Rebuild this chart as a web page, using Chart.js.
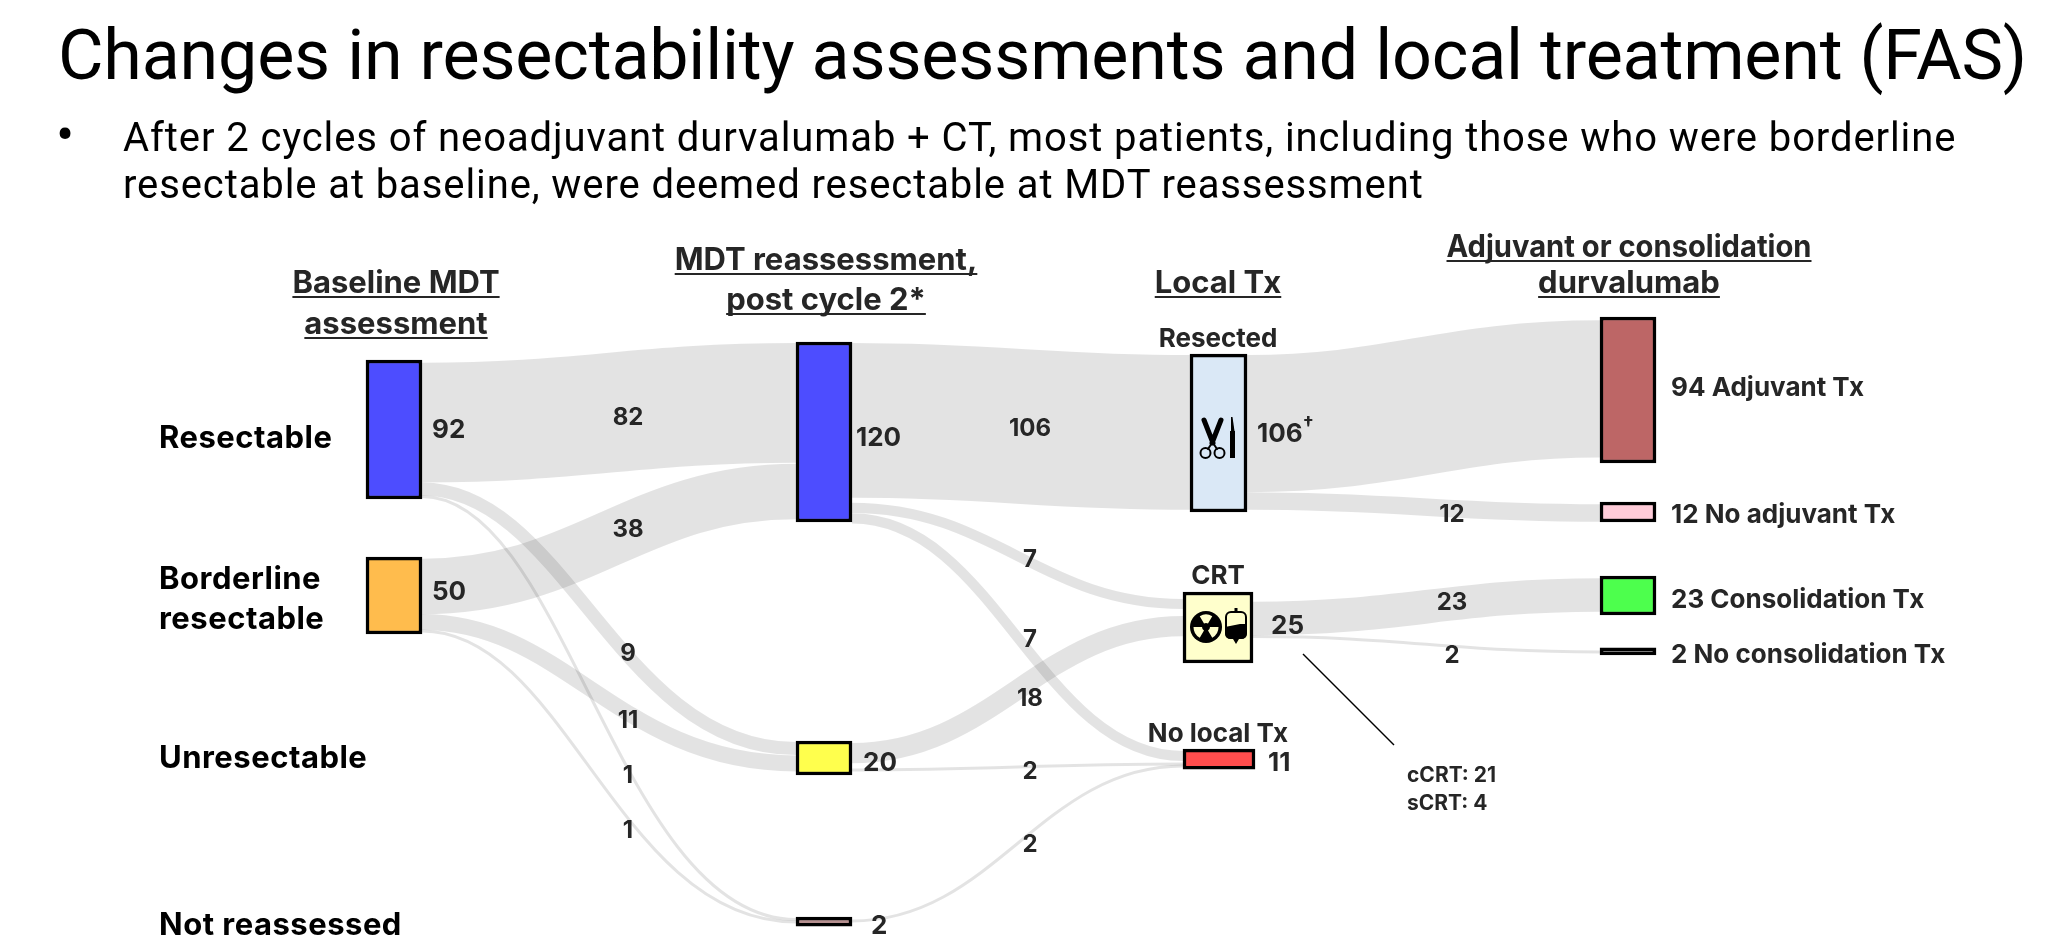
<!DOCTYPE html>
<html lang="en">
<head>
    <meta charset="UTF-8">
    <title>Changes in resectability assessments and local treatment (FAS)</title>
    <script src="https://cdn.jsdelivr.net/npm/chart.js"></script>
    <style>
        body { margin: 0; background: #fff; font-family: Roboto, sans-serif; color: #000; }
        #wrap { position: relative; width: 2047px; height: 942px; overflow: hidden; }
        canvas { position: absolute; left: 0; top: 0; }
        h1, p, span.dot { position: absolute; margin: 0; font-weight: 400; white-space: nowrap; }
        h1 { left: 58px; top: 14px; font-size: 70px; line-height: 82px; letter-spacing: -0.2px; }
        p { left: 123px; font-size: 40px; line-height: 46px; letter-spacing: 0.9px; }
        #line1 { top: 115px; }
        #line2 { top: 162px; }
        span.dot { left: 56px; top: 112px; font-size: 54px; line-height: 46px; }
    </style>
</head>
<body>
<div id="wrap">
    <canvas id="flowChart" width="2047" height="942"></canvas>
    <h1>Changes in resectability assessments and local treatment (FAS)</h1>
    <span class="dot">&bull;</span>
    <p id="line1">After 2 cycles of neoadjuvant durvalumab + CT, most patients, including those who were borderline</p>
    <p id="line2">resectable at baseline, were deemed resectable at MDT reassessment</p>
</div>
<script>
    // node data
    const nodeNames = ['Baseline resectable', 'Baseline borderline', 'Reassessed resectable', 'Reassessed unresectable',
        'Not reassessed', 'Resected', 'CRT', 'No local Tx', 'Adjuvant Tx', 'No adjuvant Tx', 'Consolidation Tx', 'No consolidation Tx'];
    const nodeValues = [92, 50, 120, 20, 2, 106, 25, 11, 94, 12, 23, 2];

    // flow data
    const linkFrom = [0, 1, 0, 0, 1, 1, 2, 2, 2, 3, 3, 4, 5, 5, 6, 6];
    const linkTo = [2, 2, 3, 4, 3, 4, 5, 6, 7, 6, 7, 7, 8, 9, 10, 11];
    const linkValues = [82, 38, 9, 1, 11, 1, 106, 7, 7, 18, 2, 2, 94, 12, 23, 2];

    // layout, x in page columns, y in patients on the axis
    const PX_PER_PATIENT = 1.46;
    const nodeX = [394, 394, 824, 824, 824, 1218.5, 1218, 1219, 1628, 1628, 1628, 1628];
    const nodeW = [56, 56, 56, 56, 56, 57, 70, 72, 56, 56, 56, 56];
    const nodeMid = [294.2, 407.9, 295.9, 519.2, 631.2, 296.6, 429.8, 519.9, 267.1, 350.7, 407.9, 446.2];
    const nodePad = [1.6, 1.35, 1.65, 1.65, 2.1, 1.1, 11.8, 1.35, 3, 0.85, 1.85, 1.4];
    const nodeColors = ['#4d4dff', '#ffbc4d', '#4d4dff', '#ffff4d', '#b58f8f', '#dae8f6', '#ffffcc', '#ff4d4d',
        '#bd6666', '#ffccd9', '#4dff4d', '#777777'];
    const linkStartY = [289.4, 401.7, 334.9, 340.1, 426, 432.2, 288, 347.9, 355.1, 515.8, 527.4, 630.8, 290.1, 343.2, 423.6, 436];
    const linkEndY = [276, 336.6, 512.7, 629.8, 522.9, 631.5, 296.2, 413.7, 517.8, 428.8, 523.3, 524.7, 266.4, 351.4, 407.5, 446.6];
    const linkFit = [1, 1, 1, 1, 1, 1, 1, 1, 1, 0.77, 1, 1, 1, 1, 1, 1];
    const linkLean = [0, 0, 17, 17, 17, 17, 0, 0, 0, 0, 0, 0, 0, 0, 0, 0];
    const CURVE = 0.43;

    // texts
    const flowLabels = [['82', 628, 415], ['38', 628, 527], ['9', 628, 651], ['11', 628, 718], ['1', 628, 773], ['1', 628, 828],
        ['106', 1030, 426], ['7', 1030, 557], ['7', 1030, 637], ['18', 1030, 696], ['2', 1030, 769], ['2', 1030, 842],
        ['12', 1452, 512], ['23', 1452, 600], ['2', 1452, 653]];
    const nodeLabels = [['92', 432, 428], ['50', 432, 590], ['120', 856, 436], ['20', 863, 761], ['2', 871, 924],
        ['106', 1257, 432], ['25', 1271, 624], ['11', 1268, 761], ['94 Adjuvant Tx', 1671, 386], ['12 No adjuvant Tx', 1671, 513],
        ['23 Consolidation Tx', 1671, 598], ['2 No consolidation Tx', 1671, 653]];
    const rowLabels = [['Resectable', 159, 438], ['Borderline', 159, 579], ['resectable', 159, 619], ['Unresectable', 159, 758], ['Not reassessed', 159, 925]];
    const headers = [['Baseline MDT', 396, 283], ['assessment', 396, 324], ['MDT reassessment,', 826, 260], ['post cycle 2*', 826, 300],
        ['Local Tx', 1218, 283], ['Adjuvant or consolidation', 1629, 247, 365], ['durvalumab', 1629, 283]];
    const stageLabels = [['Resected', 1218, 337], ['CRT', 1218, 574], ['No local Tx', 1218, 732]];
    const crtSplit = [['cCRT: 21', 1407, 772], ['sCRT: 4', 1407, 800]];

    function drawText(ctx, text, x, y, font, align, color, maxWidth) {
        ctx.font = font;
        ctx.textAlign = align;
        ctx.textBaseline = 'alphabetic';
        ctx.fillStyle = color;
        if (maxWidth) ctx.fillText(text, x, y + 10, maxWidth);
        else ctx.fillText(text, x, y + 10);
    }

    function drawScissors(ctx) {
        ctx.save();
        ctx.strokeStyle = '#000';
        ctx.lineCap = 'round';
        ctx.lineWidth = 5;
        ctx.beginPath();
        ctx.moveTo(1204, 420); ctx.lineTo(1213, 443);
        ctx.moveTo(1221, 420); ctx.lineTo(1212, 443);
        ctx.stroke();
        ctx.lineWidth = 2;
        ctx.beginPath();
        ctx.moveTo(1212, 443); ctx.lineTo(1208, 449);
        ctx.moveTo(1213, 443); ctx.lineTo(1217, 449);
        ctx.stroke();
        ctx.beginPath(); ctx.arc(1205.5, 453, 5, 0, Math.PI * 2); ctx.stroke();
        ctx.beginPath(); ctx.arc(1219.5, 453, 5, 0, Math.PI * 2); ctx.stroke();
        // scalpel
        ctx.fillStyle = '#000';
        ctx.fillRect(1230, 431, 5, 27);
        ctx.beginPath();
        ctx.moveTo(1231, 417); ctx.lineTo(1232.5, 417); ctx.lineTo(1234.5, 431); ctx.lineTo(1231, 431);
        ctx.fill();
        ctx.restore();
    }

    function drawCrtIcons(ctx) {
        const cx = 1206, cy = 627;
        ctx.save();
        ctx.fillStyle = '#000';
        ctx.beginPath(); ctx.arc(cx, cy, 16, 0, Math.PI * 2); ctx.fill();
        ctx.fillStyle = '#ffffcc';
        [-90, 30, 150].forEach(a => {
            const r = a * Math.PI / 180, half = Math.PI / 6;
            ctx.beginPath();
            ctx.arc(cx, cy, 12.5, r - half, r + half);
            ctx.arc(cx, cy, 4, r + half, r - half, true);
            ctx.closePath();
            ctx.fill();
        });
        // infusion bag
        ctx.fillStyle = '#000';
        ctx.strokeStyle = '#000';
        ctx.lineWidth = 2;
        ctx.beginPath(); ctx.roundRect(1226, 612, 20, 26, 5); ctx.stroke();
        ctx.beginPath();
        ctx.moveTo(1225, 627); ctx.lineTo(1240, 624); ctx.lineTo(1247, 624);
        ctx.lineTo(1247, 633); ctx.quadraticCurveTo(1247, 639, 1241, 639);
        ctx.lineTo(1231, 639); ctx.quadraticCurveTo(1225, 639, 1225, 633);
        ctx.fill();
        ctx.fillRect(1234.5, 608, 3, 5);
        ctx.beginPath(); ctx.moveTo(1233, 639); ctx.lineTo(1239, 639); ctx.lineTo(1236, 644); ctx.fill();
        ctx.restore();
    }

    // flows go under the bars as stroked curves, width comes from the patient count
    const flowPlugin = {
        id: 'flows',
        beforeDatasetsDraw(chart) {
            const { ctx, scales } = chart;
            ctx.save();
            ctx.strokeStyle = 'rgba(0, 0, 0, 0.11)';
            ctx.lineCap = 'butt';
            linkValues.forEach((value, i) => {
                const a = chart.getDatasetMeta(linkFrom[i]).data[0];
                const b = chart.getDatasetMeta(linkTo[i]).data[0];
                const x0 = a.x + a.width / 2, x1 = b.x - b.width / 2;
                const y0 = scales.y.getPixelForValue(linkStartY[i]);
                const y1 = scales.y.getPixelForValue(linkEndY[i]);
                const thick = scales.y.getPixelForValue(value * linkFit[i]) - scales.y.getPixelForValue(0);
                const bend = (x1 - x0) * CURVE;
                ctx.lineWidth = Math.max(thick, 3);
                ctx.beginPath();
                ctx.moveTo(x0, y0);
                ctx.bezierCurveTo(x0 + bend - linkLean[i], y0, x1 - bend - linkLean[i], y1, x1, y1);
                ctx.stroke();
            });
            ctx.restore();
        },
        afterDatasetsDraw(chart) {
            const { ctx } = chart;
            const rowFont = '700 31px Inter';
            const headFont = '700 31px Inter';
            const stageFont = '700 26px Inter';
            const numFont = '700 24px Inter';
            const sideFont = '700 26px Inter';
            ctx.save();
            rowLabels.forEach(t => {
                ctx.letterSpacing = '0.5px';
                drawText(ctx, t[0], t[1], t[2], rowFont, 'left', '#000');
                ctx.letterSpacing = '0px';
            });
            headers.forEach(t => {
                drawText(ctx, t[0], t[1], t[2], headFont, 'center', '#262626', t[3]);
                const w = Math.min(ctx.measureText(t[0]).width, t[3] || 9999);
                ctx.fillStyle = '#262626';
                ctx.fillRect(t[1] - w / 2, t[2] + 13, w, 2);
            });
            stageLabels.forEach(t => drawText(ctx, t[0], t[1], t[2], stageFont, 'center', '#262626'));
            flowLabels.forEach(t => drawText(ctx, t[0], t[1], t[2], numFont, 'center', '#262626'));
            nodeLabels.forEach(t => drawText(ctx, t[0], t[1], t[2], sideFont, 'left', '#262626'));
            ctx.font = sideFont;
            const w106 = ctx.measureText('106').width;
            drawText(ctx, '\u2020', 1257 + w106, 420, '700 19px Inter', 'left', '#262626');
            crtSplit.forEach(t => drawText(ctx, t[0], t[1], t[2], '700 21px Inter', 'left', '#262626'));

            // leader line to the CRT split
            ctx.strokeStyle = '#000';
            ctx.lineWidth = 1.5;
            ctx.beginPath();
            ctx.moveTo(1303, 654);
            ctx.lineTo(1394, 745);
            ctx.stroke();

            drawScissors(ctx);
            drawCrtIcons(ctx);
            ctx.restore();
        }
    };

    new Chart(document.getElementById('flowChart'), {
        type: 'bar',
        data: {
            datasets: nodeNames.map((name, i) => ({
                label: name,
                data: [{ x: nodeX[i], y: [nodeMid[i] - nodeValues[i] / 2 - nodePad[i], nodeMid[i] + nodeValues[i] / 2 + nodePad[i]] }],
                backgroundColor: nodeColors[i],
                borderColor: '#000',
                borderWidth: 3.5,
                borderSkipped: false,
                barThickness: nodeW[i],
                grouped: false
            }))
        },
        options: {
            responsive: false,
            animation: false,
            devicePixelRatio: 1,
            layout: { padding: 0 },
            plugins: { legend: { display: false }, tooltip: { enabled: false } },
            scales: {
                x: { type: 'linear', min: 0, max: 2047, offset: false, display: false },
                y: { type: 'linear', reverse: true, min: 0, max: 942 / PX_PER_PATIENT, display: false }
            }
        },
        plugins: [flowPlugin]
    });
</script>
</body>
</html>
